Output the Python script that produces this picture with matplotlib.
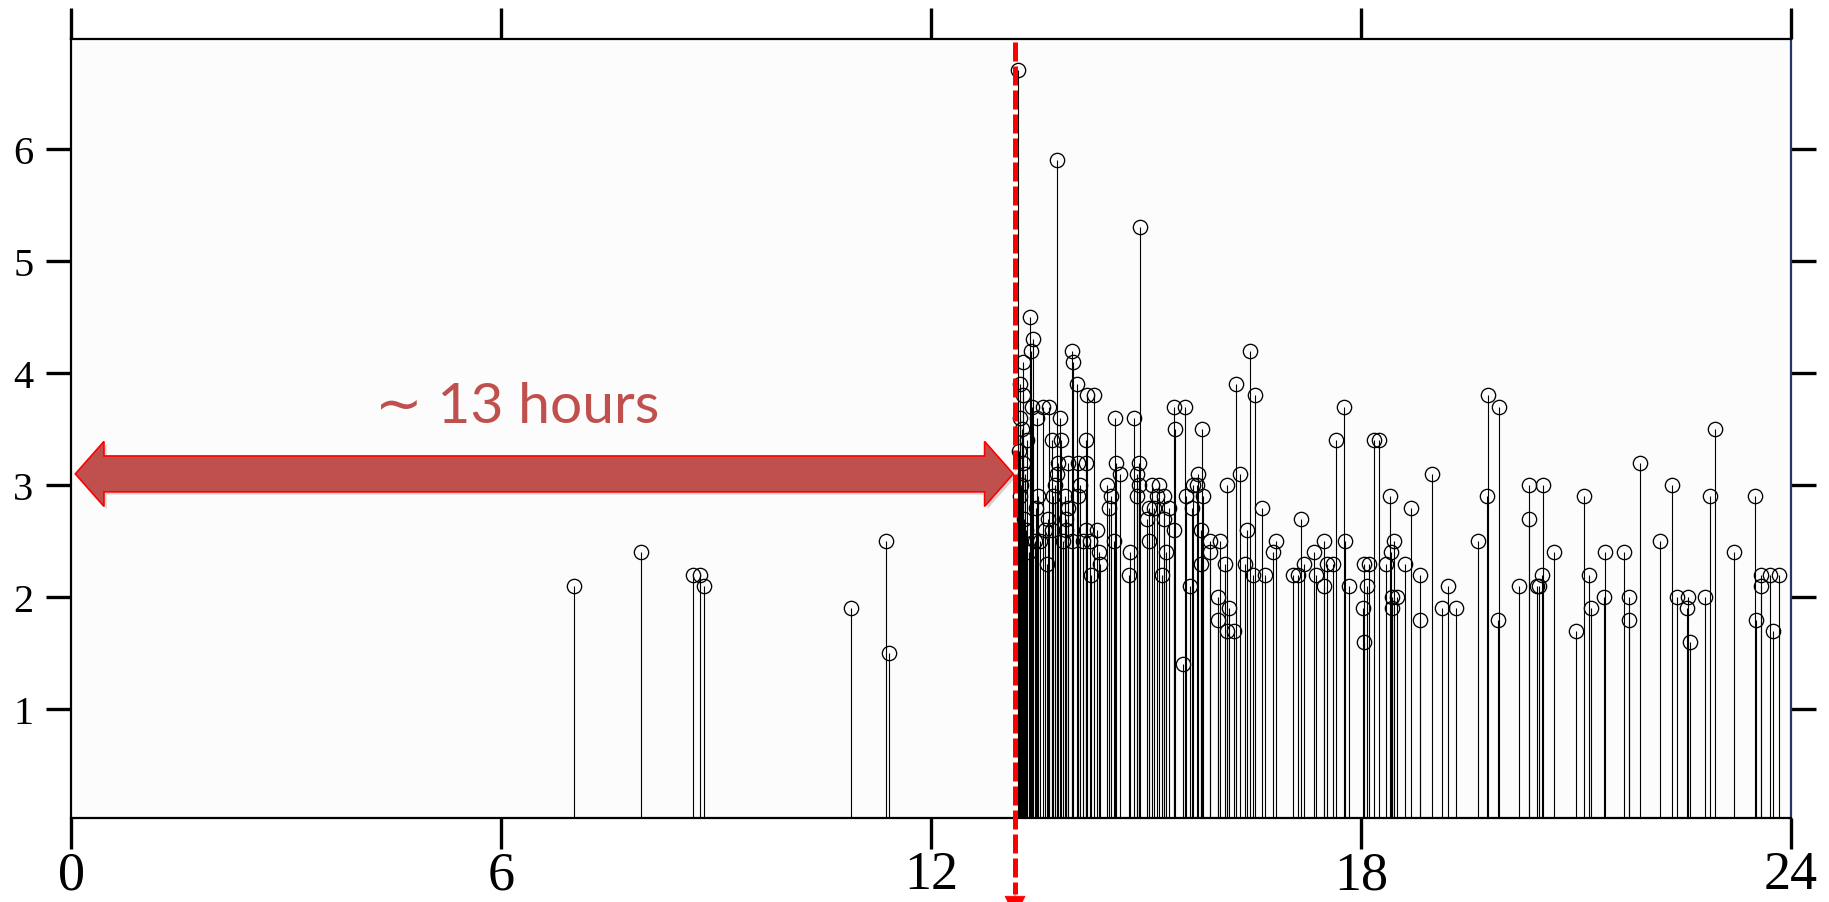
import matplotlib
matplotlib.use("Agg")
import matplotlib.pyplot as plt
from matplotlib.patches import Polygon
from matplotlib import patheffects
from matplotlib.transforms import blended_transform_factory

# Event times (hours) and magnitudes
hours = [
    7.02, 7.96, 8.68, 8.78, 8.84, 10.88, 11.38, 11.41,
    13.21, 13.23, 13.24, 13.25, 13.25, 13.26, 13.27, 13.28, 13.28, 13.29,
    13.30, 13.31, 13.33, 13.34, 13.37,
    13.38, 13.40, 13.41, 13.43, 13.45, 13.47, 13.48, 13.49, 13.52, 13.57,
    13.60, 13.62, 13.63, 13.65, 13.69, 13.69, 13.71, 13.73, 13.76, 13.76,
    13.78, 13.80, 13.82, 13.85, 13.87, 13.89, 13.89, 13.92, 13.92, 13.97,
    13.97, 13.99, 14.04, 14.06, 14.06, 14.08, 14.13, 14.17, 14.17, 14.17,
    14.18, 14.22, 14.24, 14.28, 14.32, 14.35, 14.36, 14.46, 14.48, 14.52,
    14.56, 14.57, 14.59, 14.64, 14.77, 14.78, 14.83, 14.88, 14.88, 14.90,
    14.91, 14.92, 15.01, 15.04, 15.04, 15.08, 15.12, 15.15, 15.19, 15.22,
    15.25, 15.25, 15.28, 15.32, 15.39, 15.39, 15.41, 15.52, 15.54, 15.56,
    15.61, 15.64, 15.66, 15.71, 15.73, 15.77, 15.77, 15.79, 15.80, 15.89,
    15.90, 16.01, 16.01, 16.04, 16.11, 16.14, 16.14, 16.16, 16.23, 16.26,
    16.32, 16.38, 16.41, 16.45, 16.50, 16.53, 16.62, 16.67, 16.77, 16.82,
    17.06, 17.13, 17.16, 17.21, 17.35, 17.37, 17.48, 17.49, 17.53, 17.61,
    17.65, 17.76, 17.78, 17.84, 18.03, 18.04, 18.05, 18.09, 18.11, 18.18,
    18.25, 18.35, 18.41, 18.42, 18.43, 18.44, 18.47, 18.51, 18.62, 18.70,
    18.83, 18.83, 19.00, 19.14, 19.22, 19.33, 19.63, 19.76, 19.77, 19.91,
    19.93, 20.21, 20.35, 20.35, 20.46, 20.49, 20.53, 20.55, 20.70, 21.00,
    21.11, 21.19, 21.21, 21.39, 21.41, 21.67, 21.74, 21.75, 21.90, 22.18,
    22.34, 22.42, 22.55, 22.56, 22.60, 22.81, 22.87, 22.94, 23.21, 23.50,
    23.52, 23.58, 23.58, 23.71, 23.75, 23.84,
]
magnitudes = [
    2.1, 2.4, 2.2, 2.2, 2.1, 1.9, 2.5, 1.5,
    6.7, 3.3, 2.9, 3.9, 3.6, 3.0, 3.5, 4.1, 3.8, 3.2,
    2.7, 3.1, 2.6, 3.4, 2.4,
    4.5, 4.2, 3.7, 4.3, 2.5, 2.8, 3.6, 2.9, 2.5, 3.7,
    2.6, 2.3, 2.7, 3.7, 3.4, 2.6, 2.9, 3.0, 3.1, 5.9,
    3.2, 3.6, 3.4, 2.5, 2.9, 2.7, 2.6, 3.2, 2.8, 4.2,
    2.5, 4.1, 3.9, 3.2, 2.9, 3.0, 2.5, 3.4, 3.2, 2.6,
    3.8, 2.5, 2.2, 3.8, 2.6, 2.4, 2.3, 3.0, 2.8, 2.9,
    2.5, 3.6, 3.2, 3.1, 2.2, 2.4, 3.6, 3.1, 2.9, 3.0,
    3.2, 5.3, 2.7, 2.8, 2.5, 3.0, 2.8, 2.9, 3.0, 2.2,
    2.9, 2.7, 2.4, 2.8, 3.7, 2.6, 3.5, 1.4, 3.7, 2.9,
    2.1, 2.8, 3.0, 3.0, 3.1, 2.6, 2.3, 3.5, 2.9, 2.4,
    2.5, 2.0, 1.8, 2.5, 2.3, 3.0, 1.7, 1.9, 1.7, 3.9,
    3.1, 2.3, 2.6, 4.2, 2.2, 3.8, 2.8, 2.2, 2.4, 2.5,
    2.2, 2.2, 2.7, 2.3, 2.4, 2.2, 2.1, 2.5, 2.3, 2.3,
    3.4, 3.7, 2.5, 2.1, 1.9, 2.3, 1.6, 2.1, 2.3, 3.4,
    3.4, 2.3, 2.9, 2.4, 2.0, 1.9, 2.5, 2.0, 2.3, 2.8,
    2.2, 1.8, 3.1, 1.9, 2.1, 1.9, 2.5, 2.9, 3.8, 1.8,
    3.7, 2.1, 3.0, 2.7, 2.1, 2.1, 2.2, 3.0, 2.4, 1.7,
    2.9, 2.2, 1.9, 2.0, 2.4, 2.4, 1.8, 2.0, 3.2, 2.5,
    3.0, 2.0, 1.9, 2.0, 1.6, 2.0, 2.9, 3.5, 2.4, 2.9,
    1.8, 2.2, 2.1, 2.2, 1.7, 2.2,
]

x_ticks = [0, 6, 12, 18, 24]
y_ticks = [1, 2, 3, 4, 5, 6]

# Onset of the sequence and the quiet-interval annotation
onset_hour = 13.175
span_start, span_end, span_level = 0.06, 13.15, 3.10
span_label = "\u223c 13 hours"
label_hour, label_level = 6.22, 3.56

W, H = 1829, 903
fig = plt.figure(figsize=(W / 100, H / 100), dpi=100)
fig.patch.set_facecolor("white")
ax = fig.add_axes([71 / W, 1 - 819 / H, (1790.7 - 71) / W, (819 - 40) / H])
ax.set_facecolor("#fcfcfc")
ax.set_xlim(0, 24)
ax.set_ylim(0.03, 6.98)

# Stems and open circle heads
ax.vlines(hours, 0, magnitudes, colors="black", linewidth=0.8, zorder=2)
ax.plot(hours, magnitudes, linestyle="none", marker="o", markersize=10.3,
        markerfacecolor="none", markeredgecolor="black", markeredgewidth=0.95,
        zorder=3)

# Axes frame and ticks
for side in ("left", "top", "bottom"):
    ax.spines[side].set_linewidth(1.6)
    ax.spines[side].set_color("black")
ax.spines["right"].set_linewidth(1.6)
ax.spines["right"].set_color("#27336b")

serif = "Liberation Serif"
ax.set_xticks(x_ticks)
ax.set_yticks(y_ticks)
ax.set_xticklabels([str(t) for t in x_ticks], fontfamily=serif, fontsize=39)
ax.set_yticklabels([str(t) for t in y_ticks], fontfamily=serif, fontsize=29)
ax.tick_params(axis="x", direction="out", length=22, width=2.4,
               top=True, bottom=True, labeltop=False, pad=1, color="black")
ax.tick_params(axis="y", direction="out", length=18, width=2.4,
               left=True, right=True, labelright=False, pad=9, color="black")

# Double-headed span arrow
hl, hh, sh = 0.40, 0.29, 0.16
verts = [
    (span_start, span_level),
    (span_start + hl, span_level + hh),
    (span_start + hl, span_level + sh),
    (span_end - hl, span_level + sh),
    (span_end - hl, span_level + hh),
    (span_end, span_level),
    (span_end - hl, span_level - hh),
    (span_end - hl, span_level - sh),
    (span_start + hl, span_level - sh),
    (span_start + hl, span_level - hh),
]
arrow = Polygon(verts, closed=True, facecolor="#c0504d", edgecolor="#ff0000",
                linewidth=1.2, zorder=5, clip_on=False)
arrow.set_path_effects([
    patheffects.SimplePatchShadow(offset=(2, -2), shadow_rgbFace="#888888", alpha=0.35),
    patheffects.Normal(),
])
ax.add_patch(arrow)

ax.text(label_hour, label_level, span_label, color="#c0504d",
        fontsize=41, family=["Lato", "DejaVu Sans"], ha="center",
        va="baseline", zorder=6)

# Dashed onset marker running past the axis, ending in an arrow head
trans = blended_transform_factory(ax.transData, fig.transFigure)
y_top = 1 - 43 / H
y_head = 1 - 895 / H
ax.plot([onset_hour, onset_hour], [y_top, y_head], transform=trans,
        color="#ff0000", linewidth=3.6, dashes=(3.8, 1.0),
        solid_capstyle="butt", dash_capstyle="butt", clip_on=False, zorder=7)
ax.annotate("", xy=(onset_hour, 1 - 918 / H), xycoords=("data", "figure fraction"),
            xytext=(onset_hour, y_head + 0.001), textcoords=("data", "figure fraction"),
            arrowprops=dict(arrowstyle="-|>,head_length=0.6,head_width=0.3",
                            color="#ff0000", lw=0.5, shrinkA=0, shrinkB=0,
                            mutation_scale=24),
            annotation_clip=False, zorder=7)

fig.savefig("out.png", dpi=100, facecolor="white")
